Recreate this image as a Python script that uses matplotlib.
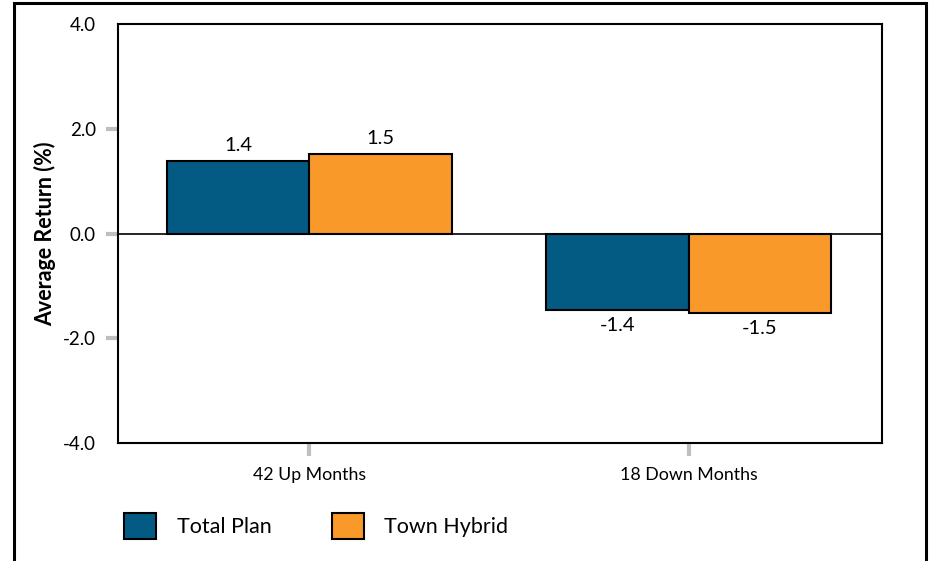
import numpy as np
import matplotlib
matplotlib.use("Agg")
import matplotlib.pyplot as plt
from matplotlib.patches import Rectangle, Patch

plt.rcParams['font.family'] = ['Lato', 'DejaVu Sans']

categories = ['42 Up Months', '18 Down Months']
total_plan = [1.39, -1.46]
town_hybrid = [1.51, -1.51]
labels_total = ['1.4', '-1.4']
labels_town = ['1.5', '-1.5']
yticks = [-4.0, -2.0, 0.0, 2.0, 4.0]

blue = '#035A82'
orange = '#F8992A'

fig = plt.figure(figsize=(9.32, 5.61), dpi=100)
ax = fig.add_axes([0.1266, 0.2103, 0.8198, 0.7469])

x = np.arange(len(categories))
w = 0.375
b1 = ax.bar(x - w / 2, total_plan, w, color=blue, edgecolor='black', linewidth=1.5, zorder=3)
b2 = ax.bar(x + w / 2, town_hybrid, w, color=orange, edgecolor='black', linewidth=1.5, zorder=3)

for bars, labs in ((b1, labels_total), (b2, labels_town)):
    for r, lab in zip(bars, labs):
        h = r.get_height()
        off = 5 if h >= 0 else -5
        ax.annotate(lab, (r.get_x() + r.get_width() / 2, h), xytext=(0, off),
                    textcoords='offset points', ha='center',
                    va='bottom' if h >= 0 else 'top', fontsize=14.5)

ax.axhline(0, color='black', linewidth=1.2, zorder=2)
ax.set_xlim(-0.505, 1.51)
ax.set_ylim(-4, 4)
ax.set_yticks(yticks)
ax.set_yticklabels([f'{v:.1f}' for v in yticks], fontsize=13.5)
ax.set_xticks(x)
ax.set_xticklabels(categories, fontsize=12.8)
ax.tick_params(axis='both', color='#BFBFBF', width=3, length=9)
ax.tick_params(axis='y', pad=7)
ax.tick_params(axis='x', pad=8)
yt = ax.yaxis.get_major_ticks()
yt[0].tick1line.set_visible(False)
yt[-1].tick1line.set_visible(False)
for s in ax.spines.values():
    s.set_linewidth(1.5)
ax.set_ylabel('Average Return (%)', fontsize=15.5, fontweight='bold', labelpad=5)

handles = [Patch(facecolor=blue, edgecolor='black', linewidth=1.5, label='Total Plan'),
           Patch(facecolor=orange, edgecolor='black', linewidth=1.5, label='Town Hybrid')]
fig.legend(handles=handles, loc='center left', bbox_to_anchor=(0.112, 0.062), ncol=2,
           frameon=False, fontsize=15.5, handlelength=1.5, handleheight=1.45,
           handletextpad=0.95, columnspacing=2.8)

fig.patches.append(Rectangle((14 / 932, -0.05), 912 / 932, 1.05 - 3 / 561, transform=fig.transFigure,
                             fill=False, edgecolor='black', linewidth=2.2))

fig.savefig('out.png', dpi=100)
